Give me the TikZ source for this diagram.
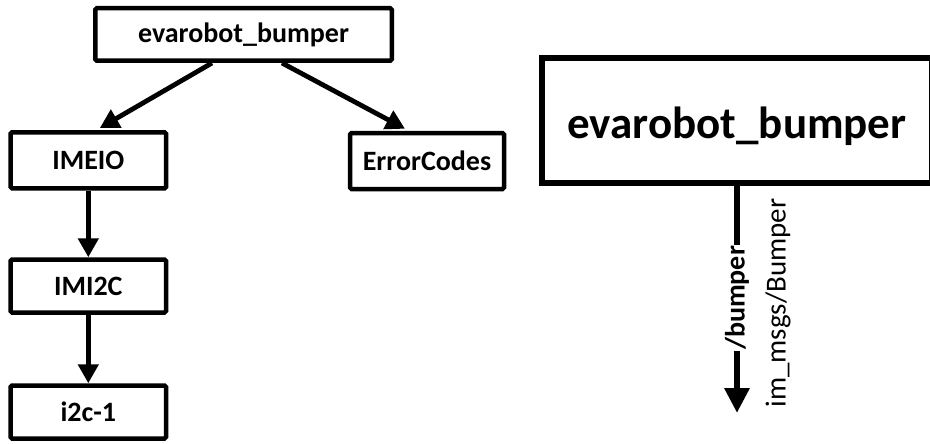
\documentclass[tikz,border=0pt]{standalone}
\usepackage{fontspec}
\setmainfont{Carlito}
\usetikzlibrary{arrows.meta,calc}
\tikzset{
  smallbox/.style={draw, line width=4.5pt, rounded corners=1.5pt, inner sep=0pt,
    font=\fontsize{28}{32}\selectfont\bfseries},
  smallarrow/.style={line width=4.8pt, -{Triangle[width=20pt,length=19pt]}},
  bigarrow/.style={line width=6.5pt, -{Triangle[width=24pt,length=25pt]}},
}
\begin{document}
\begin{tikzpicture}[x=1pt,y=-1pt]
\useasboundingbox (0,0) rectangle (930,444);
\clip (0,0) rectangle (930,444);
\fill[white] (0,0) rectangle (930,444);
% left tree
\node[smallbox, minimum width=296.5pt, minimum height=52.5pt] (top) at (243.5,34.5) {evarobot\_bumper};
\node[smallbox, minimum width=155.5pt, minimum height=56pt] (imeio) at (88.3,160.3) {IMEIO};
\node[smallbox, minimum width=154pt, minimum height=56pt] (err) at (427,161) {ErrorCodes};
\node[smallbox, minimum width=155.5pt, minimum height=53pt] (imi2c) at (88.3,286) {IMI2C};
\node[smallbox, minimum width=155.5pt, minimum height=53pt] (i2c) at (88.3,412) {i2c-1};
\draw[smallarrow] ($(top.south)+(-31.5,0)$) -- ($(imeio.north)+(11.5,-2)$);
\draw[smallarrow] ($(top.south)+(38.5,0)$) -- ($(err.north)+(-22,-2)$);
\draw[smallarrow] (imeio) -- (imi2c);
\draw[smallarrow] (imi2c) -- (i2c);
% right part
\node[draw, line width=6.5pt, inner sep=0pt, anchor=base, text height=80.75pt, text depth=43.75pt,
  minimum width=390.5pt, font=\fontsize{45}{50}\selectfont\bfseries] (big) at (737,139) {evarobot\_bumper};
\coordinate (tip) at (737,413);
\draw[bigarrow] (big.south) -- (tip);
\node[fill=white, rotate=90, inner sep=1.5pt, font=\fontsize{28}{32}\selectfont\bfseries] (topic) at (737,298) {/bumper};
\node[rotate=90, inner sep=0pt, font=\fontsize{29}{33}\selectfont] (msg) at (778,303) {im\_msgs/Bumper};
\end{tikzpicture}
\end{document}
